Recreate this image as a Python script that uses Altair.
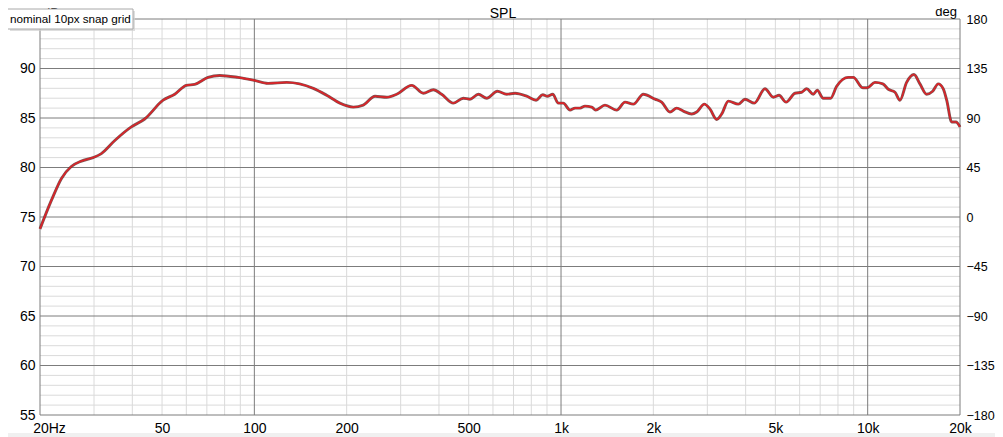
import altair as alt
import pandas as pd

# ---- data ----
freq = [20, 21.8, 23.5, 25.3, 27.3, 29.8, 31.7, 35.0, 39.7, 43.9, 50.4, 55.0, 60.0, 63.9, 70.6,
        77.1, 88.5, 100, 110.8, 127.5, 155.7, 172.1, 190.1, 210.3, 226.5, 247.5, 270.1, 291.1,
        326, 355.7, 383.4, 408, 445.5, 480.3, 504.9, 537.5, 572.3, 620, 665, 708, 773, 829,
        871.7, 902.6, 939.6, 980, 1017, 1070, 1111, 1154, 1197, 1259, 1297, 1391, 1519, 1617,
        1721, 1855, 2025, 2129, 2266, 2383, 2505, 2667, 2769, 2933, 3061, 3218, 3341, 3512,
        3785, 3980, 4270, 4624, 4925, 5140, 5417, 5794, 6091, 6324, 6645, 6847, 7161, 7571,
        7921, 8646, 8975, 9633, 9973, 10564, 11200, 11677, 12277, 12743, 13394, 14155, 14806,
        15568, 16290, 16980, 17640, 18100, 18790, 19400, 20000]
spl = [73.8, 76.7, 78.9, 80.1, 80.65, 81.0, 81.4, 82.7, 84.1, 84.9, 86.8, 87.4, 88.3, 88.4, 89.1,
       89.3, 89.1, 88.8, 88.5, 88.6, 88.0, 87.3, 86.5, 86.1, 86.3, 87.2, 87.1, 87.4,
       88.3, 87.5, 87.85, 87.4, 86.5, 87.0, 86.9, 87.4, 87.0, 87.7, 87.4, 87.5, 87.2, 86.8,
       87.35, 87.2, 87.4, 86.5, 86.5, 85.8, 86.0, 86.0, 86.2, 86.1, 85.8, 86.3, 85.8, 86.6,
       86.4, 87.4, 86.9, 86.6, 85.6, 86.0, 85.7, 85.4, 85.6, 86.4, 85.9, 84.85, 85.4, 86.7,
       86.4, 86.9, 86.5, 87.95, 87.1, 87.3, 86.6, 87.5, 87.6, 87.95, 87.4, 87.8, 87.0, 87.0,
       88.2, 89.1, 89.1, 88.05, 88.05, 88.6, 88.45, 87.9, 87.6, 86.8, 88.6, 89.4, 88.45,
       87.4, 87.7, 88.45, 87.95, 86.8, 84.6, 84.6, 84.1]

x_ticks = [20, 50, 100, 200, 500, 1000, 2000, 5000, 10000, 20000]
x_labels = ["20Hz", "50", "100", "200", "500", "1k", "2k", "5k", "10k", "20k"]
minor_freqs = [30, 40, 50, 60, 70, 80, 90,
               200, 300, 400, 500, 600, 700, 800, 900,
               2000, 3000, 4000, 5000, 6000, 7000, 8000, 9000]
major_freqs = [20, 100, 1000, 10000, 20000]
db_ticks = [55, 60, 65, 70, 75, 80, 85, 90]
db_major = [55, 60, 65, 70, 75, 80, 85, 90, 95]
db_minor = [v for v in range(56, 95) if v % 5 != 0]
deg_ticks = [-180, -135, -90, -45, 0, 45, 90, 135, 180]

title_text = "SPL"
left_unit = "dB"
right_unit = "deg"
tooltip_text = "nominal 10px snap grid"

# ---- chart ----
FONT = "Liberation Sans"
GRID_MINOR = "#dadada"
GRID_MAJOR = "#7c7c7c"

label_expr = " : ".join(
    f"datum.value == {v} ? '{t}'" for v, t in zip(x_ticks, x_labels)
) + " : ''"

xs = alt.Scale(type="log", domain=[20, 20000], nice=False)
ys = alt.Scale(domain=[55, 95], nice=False, zero=False)

x_axis = alt.Axis(values=x_ticks, labelExpr=label_expr, title=None, grid=False,
                  ticks=False, tickSize=0, domain=False, labelPadding=6,
                  labelBaseline="top", labelFlush=False, labelOverlap=False,
                  labelOffset={"condition": {"test": "datum.value == 20", "value": 9}, "value": 0})
y_axis = alt.Axis(values=db_ticks, title=None, grid=False, ticks=False, tickSize=0,
                  domain=False, labelPadding=5, labelFlush=False, labelOverlap=False)

minor_v = alt.Chart(pd.DataFrame({"f": minor_freqs})).mark_rule(
    color=GRID_MINOR, strokeWidth=1).encode(x=alt.X("f:Q", scale=xs, axis=x_axis))
minor_h = alt.Chart(pd.DataFrame({"v": db_minor})).mark_rule(
    color=GRID_MINOR, strokeWidth=1).encode(y=alt.Y("v:Q", scale=ys, axis=y_axis))
major_v = alt.Chart(pd.DataFrame({"f": major_freqs})).mark_rule(
    color=GRID_MAJOR, strokeWidth=1).encode(x=alt.X("f:Q", scale=xs, axis=x_axis))
major_h = alt.Chart(pd.DataFrame({"v": db_major})).mark_rule(
    color=GRID_MAJOR, strokeWidth=1).encode(y=alt.Y("v:Q", scale=ys, axis=y_axis))

df = pd.DataFrame({"f": freq, "db": spl})
line_base = alt.Chart(df).encode(
    x=alt.X("f:Q", scale=xs, axis=x_axis),
    y=alt.Y("db:Q", scale=ys, axis=y_axis),
)
line_under = line_base.mark_line(color="#5e2a2a", strokeWidth=2.9, interpolate="monotone",
                                 opacity=0.8)
line_top = line_base.mark_line(color="#dc2328", strokeWidth=1.6, interpolate="monotone")

inner = alt.layer(minor_v, minor_h, major_v, major_h, line_under, line_top)

deg_layer = alt.Chart(pd.DataFrame({"deg": deg_ticks})).mark_point(opacity=0).encode(
    x=alt.value(0),
    y=alt.Y("deg:Q", scale=alt.Scale(domain=[-180, 180], nice=False, zero=False),
            axis=alt.Axis(orient="right", values=deg_ticks, title=None, grid=False,
                          ticks=False, tickSize=0, domain=False, labelPadding=6,
                          labelFontSize=12.5,
                          labelAlign="left", labelFlush=False, labelOverlap=False)),
)


def text_layer(txt, x, y, align="left", size=14, baseline="alphabetic"):
    return alt.Chart(pd.DataFrame({"t": [txt]})).mark_text(
        align=align, baseline=baseline, font=FONT, fontSize=size, color="#000000"
    ).encode(x=alt.value(x), y=alt.value(y), text="t:N")


title_l = text_layer(title_text, 463, -1, align="center")
db_l = text_layer(left_unit, 3, -2, size=13)
deg_l = text_layer(right_unit, 917, -3, align="right", size=13)

one = pd.DataFrame({"a": [0]})
bottom_band = alt.Chart(one).mark_rect(color="#f0f0f0").encode(
    x=alt.value(-32), x2=alt.value(955), y=alt.value(414), y2=alt.value(420))
shadow = alt.Chart(one).mark_rect(color="#d0d0d0", opacity=0.7).encode(
    x=alt.value(-30), x2=alt.value(95), y=alt.value(-8), y2=alt.value(12))
box = alt.Chart(one).mark_rect(fill="#ffffff", stroke="#a8a8a8", strokeWidth=1).encode(
    x=alt.value(-33), x2=alt.value(93), y=alt.value(-10), y2=alt.value(10))
tip = text_layer(tooltip_text, -30, 0, size=11.7, baseline="middle")

chart = alt.layer(inner, deg_layer, title_l, db_l, deg_l, bottom_band, shadow, box, tip
                  ).resolve_scale(y="independent").properties(
    width=920, height=396,
    padding={"left": 32, "top": 11, "right": 35, "bottom": 22},
    autosize=alt.AutoSizeParams(type="none"),
    background="#ffffff",
).configure_view(stroke=None).configure_axis(
    labelFont=FONT, labelFontSize=14, labelColor="#000000"
)

chart.save("out.html", embed_options={"renderer": "svg", "actions": False})
